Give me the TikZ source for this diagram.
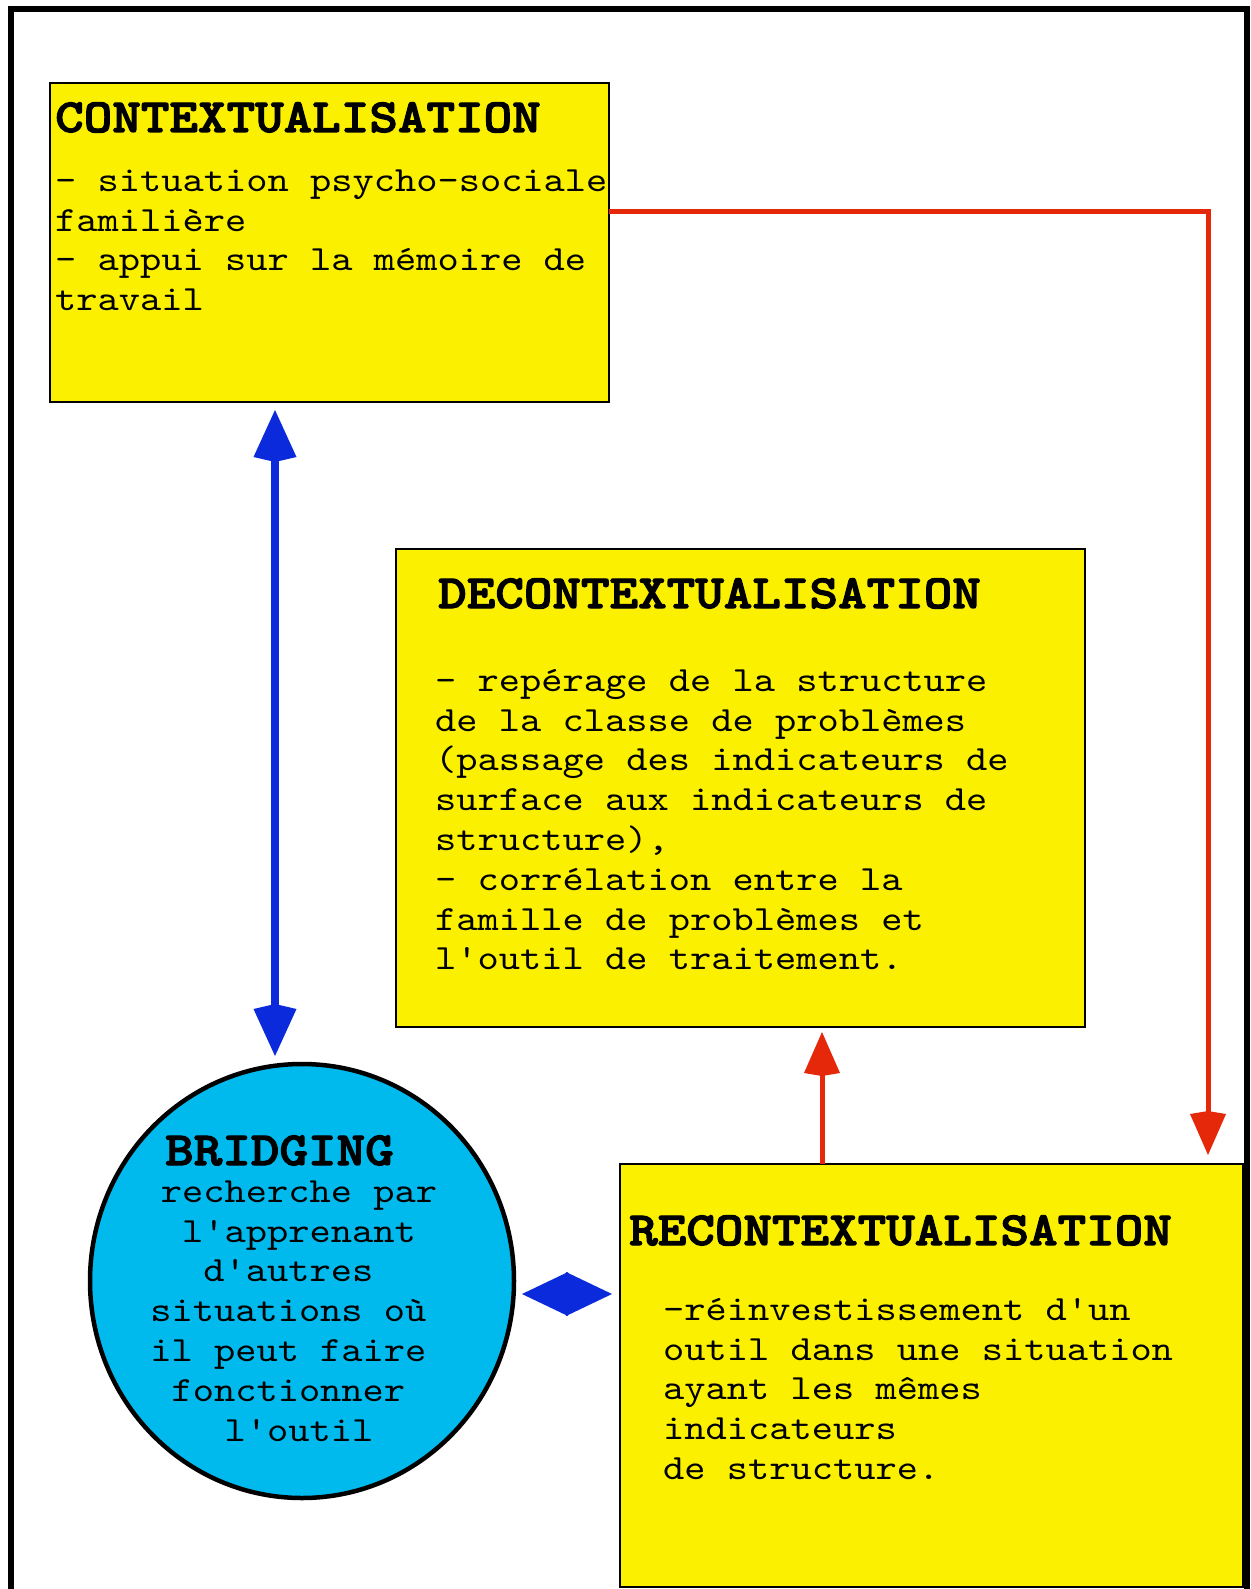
\documentclass[tikz,border=0pt]{standalone}
\usepackage{fontspec}
\setmonofont{lmmono10-regular.otf}[FakeStretch=1.1429,BoldFont=lmmonolt10-bold.otf,BoldFeatures={FakeBold=2.5}]
\usetikzlibrary{arrows.meta,shapes.geometric}
\definecolor{boxyellow}{RGB}{250,240,0}
\definecolor{bridgecyan}{RGB}{0,186,238}
\definecolor{arrowblue}{RGB}{10,42,220}
\definecolor{arrowred}{RGB}{230,40,10}
\newcommand\mystrut{\rule{0pt}{40pt}}
\begin{document}
\begin{tikzpicture}[x=1pt,y=-1pt,
  ybox/.style={draw=black, line width=2.5pt, fill=boxyellow, anchor=north west, inner sep=0pt, outer sep=0pt},
  titletext/.style={anchor=base west, inner sep=0pt, font=\ttfamily\bfseries\fontsize{47.6}{50}\selectfont},
  bodytext/.style={anchor=north west, inner sep=0pt, align=left, font=\ttfamily\fontsize{35.4}{39.8}\selectfont},
  bluearrow/.style={draw=arrowblue, line width=8pt, {Kite[length=52pt,width=43pt,inset=5pt]}-{Kite[length=52pt,width=43pt,inset=5pt]}},
  smallblue/.style={draw=arrowblue, line width=6pt, {Kite[length=47pt,width=44pt,inset=1pt]}-{Kite[length=47pt,width=44pt,inset=1pt]}},
  redline/.style={draw=arrowred, line width=5pt, -{Kite[length=44pt,width=36pt,inset=3pt]}}
]
\useasboundingbox (0,0) rectangle (1250,1589);
% outer frame
\draw[line width=6pt] (11,1600) -- (11,9) -- (1247,9) -- (1247,1600);

% boxes
\node[ybox, minimum width=559pt, minimum height=319pt] (ctx) at (50,83) {};
\node[ybox, minimum width=689pt, minimum height=478pt] (dec) at (396,549) {};
\node[ybox, minimum width=623pt, minimum height=423pt] (rec) at (620,1164) {};
\node[ellipse, draw=black, line width=4.5pt, fill=bridgecyan, minimum width=424pt, minimum height=434pt, inner sep=0pt, outer sep=0pt] (bri) at (302,1281) {};

% helper coordinates
\coordinate (bx) at (275,0);
\coordinate (rc) at (1208,212);
\coordinate (ru) at (822,0);
\coordinate (dy) at (0,1294);

% connectors
\draw[bluearrow, shorten <=8pt, shorten >=8pt] (ctx.south -| bx) -- (bri.north -| bx);
\draw[redline, shorten >=9pt] (ctx.east |- rc) -- (rc) -- (rc |- rec.north);
\draw[redline, shorten >=5pt] (rec.north -| ru) -- (dec.south -| ru);
\draw[smallblue, shorten <=8pt, shorten >=8pt] (bri.east |- dy) -- (rec.west |- dy);

% texts
\node[titletext] (ctxT) at (55,132) {CONTEXTUALISATION};
\node[bodytext] (ctxB) at (55,151) {\mystrut- situation psycho-sociale\\familière\\- appui sur la mémoire de\\travail};

\node[titletext] (decT) at (438,608) {DECONTEXTUALISATION};
\node[bodytext] (decB) at (435,651) {\mystrut- repérage de la structure\\de la classe de problèmes\\(passage des indicateurs de\\surface aux indicateurs de\\structure),\\- corrélation entre la\\famille de problèmes et\\l'outil de traitement.};

\node[titletext] (briT) at (165,1165) {BRIDGING};
\node[bodytext, anchor=north, align=center] (briB) at (299,1162) {\mystrut recherche par\\l'apprenant\\d'autres\phantom{x}\\situations où\phantom{x}\\il peut faire\phantom{x}\\fonctionner\phantom{x}\\l'outil};

\node[titletext] (recT) at (629,1245) {RECONTEXTUALISATION};
\node[bodytext] (recB) at (663,1280) {\mystrut-réinvestissement d'un\\outil dans une situation\\ayant les mêmes\\indicateurs\\de structure.};
\end{tikzpicture}
\end{document}
